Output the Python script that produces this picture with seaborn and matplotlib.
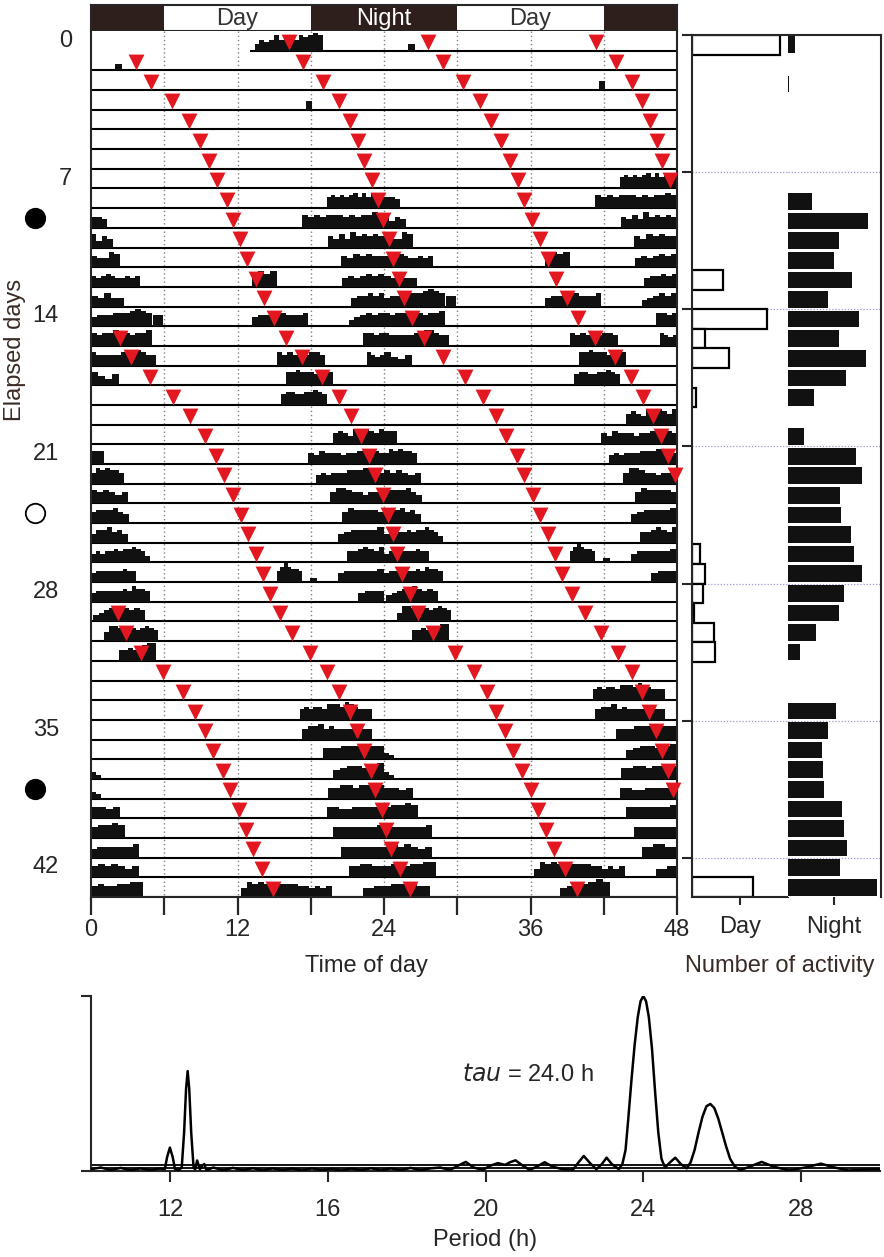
import numpy as np
import pandas as pd
import matplotlib
matplotlib.use('Agg')
import matplotlib.pyplot as plt
import seaborn as sns

sns.set_style('ticks')
plt.rcParams['font.family'] = ['Liberation Sans', 'DejaVu Sans']

# ---------------------------------------------------------------- data
record_start = 13.0          # hour the recording began on day 0

# activity bouts per day: (onset h, offset h, step profile in tenths of row height)
day_bouts = [
    [(13.4, 19.0, '35457566576787')],                                   # 0
    [(2.0, 2.5, '3')],
    [],
    [(17.6, 18.1, '4')],
    [], [], [], [],
    [(19.3, 24.0, '5656567575766')],                                    # 8
    [(0, 1.3, '554'), (17.3, 24, '65656665656676')],
    [(0, 1.8, '6354'), (19.4, 24, '5464756565')],                       # 10
    [(0, 2.4, '54476'), (20.5, 24, '5465655')],
    [(0, 4.0, '5456544545'), (13.2, 15.2, '5767'), (20.6, 24, '4545656')],
    [(0, 2.7, '54644'), (21.3, 24, '455656')],
    [(0, 5.0, '45556667876'), (5.1, 5.9, '55'), (13.2, 17.8, '4556765556'), (21.1, 24, '345656')],
    [(0, 5.0, '65667565667'), (22.3, 24, '6656')],                      # 15
    [(0, 5.3, '6555556677655'), (15.2, 19.2, '656565665'), (22.6, 24, '6545')],
    [(0, 2.3, '6435'), (16.0, 19.8, '6676665766')],
    [(15.6, 19.3, '5665566765')],
    [],
    [(19.8, 24, '5654767657')],                                         # 20
    [(0, 1.1, '66'), (17.8, 24, '54655545566565')],
    [(0, 2.7, '5767665'), (18.4, 24, '4545556667765')],
    [(0, 3.0, '656545'), (19.6, 24, '5776554556')],
    [(0, 3.1, '5666754'), (20.6, 24, '5766665')],
    [(0, 3.0, '4667564'), (20.2, 24, '4566667')],                       # 25
    [(0, 4.8, '4545565667653'), (21.0, 24, '5567657')],
    [(0, 3.7, '4555555655'), (15.2, 17.3, '5797665'), (17.9, 18.5, '2'), (20.2, 24, '4555556')],
    [(0, 4.8, '4555555657665'), (21.9, 24, '4555')],
    [(0.2, 4.4, '3456676565')],
    [(1.1, 5.5, '477667656765')],                                       # 30
    [(2.3, 5.3, '55655788')],
    [],
    [],
    [(17.1, 23.0, '5656657776876555')],
    [(17.3, 23.0, '5667565555555')],                                    # 35
    [(19.0, 24, '5556665666')],
    [(0, 0.8, '32'), (19.8, 24, '4566567')],
    [(0, 0.8, '32'), (19.4, 24, '556656666')],
    [(0, 2.4, '5545'), (19.3, 24, '554455555')],
    [(0, 2.8, '56676'), (19.8, 24, '5555556')],                         # 40
    [(0, 3.9, '45555556'), (20.5, 24, '555555')],
    [(0, 3.9, '5656545'), (21.1, 24, '556655')],
    [(0, 4.3, '56556677'), (12.3, 19.7, '4767656666554545'), (22.3, 24, '4455')],
    [(0, 3.8, '5666655'), (14.4, 18.5, '4556787')],                     # 44
]

# red triangles, per actogram row, in double-plot hours (0-48)
tide_marks = [
    [16.2, 27.6, 41.4], [3.7, 17.4, 28.8, 43.0], [4.9, 19.0, 30.5, 44.3],
    [6.6, 20.3, 31.9, 45.1], [8.0, 21.2, 32.8, 45.8], [8.9, 21.9, 33.6, 46.4],
    [9.7, 22.4, 34.3, 46.8], [10.3, 23.0, 35.0, 47.4], [11.1, 23.5, 35.5],
    [11.6, 23.9, 36.1], [12.2, 24.4, 36.8], [12.8, 24.7, 37.4],
    [13.5, 25.2, 38.1], [14.2, 25.6, 39.0], [15.0, 26.3, 39.9],
    [2.4, 16.0, 27.3, 41.3], [3.3, 17.3, 28.8, 42.9], [4.8, 18.9, 30.6, 44.2],
    [6.7, 20.3, 32.1, 45.2], [8.1, 21.3, 33.2, 46.0], [9.3, 22.1, 34.0, 46.7],
    [10.2, 22.8, 34.9, 47.3], [10.9, 23.3, 35.5, 47.8], [11.6, 23.9, 36.2],
    [12.3, 24.3, 36.8], [12.9, 24.7, 37.4], [13.5, 25.1, 38.0],
    [14.1, 25.5, 38.6], [14.7, 26.1, 39.4], [2.2, 15.5, 26.8, 40.5],
    [2.9, 16.5, 28.0, 41.8], [4.1, 17.9, 29.8, 43.2], [5.9, 19.3, 31.4, 44.3],
    [7.5, 20.3, 32.4, 45.1], [8.5, 21.2, 33.2, 45.7], [9.3, 21.8, 33.9, 46.3],
    [10.0, 22.4, 34.6, 46.8], [10.8, 22.9, 35.3, 47.3], [11.4, 23.3, 36.0, 47.7],
    [12.1, 23.8, 36.6], [12.7, 24.2, 37.3], [13.3, 24.6, 37.9],
    [14.0, 25.3, 38.8], [14.9, 26.1, 39.8],
]

row_labels = [0, 7, 14, 21, 28, 35, 42]
marked_days = [9, 24, 38]
marked_filled = [True, False, True]

light_edges = [0, 6, 18, 30, 42, 48]
light_names = ['', 'Day', 'Night', 'Day', '']
light_dark = [True, False, True, False, True]

# number of activity per day
day_counts = [88, 0, 0, 0, 0, 0, 0, 0, 0, 0,
              0, 0, 31, 0, 75, 13, 37, 0, 4, 0,
              0, 0, 0, 0, 0, 0, 8, 13, 11, 2,
              22, 23, 0, 0, 0, 0, 0, 0, 0, 0,
              0, 0, 0, 61]
night_counts = [7, 0, 0.6, 0, 0, 0, 0, 0, 24, 80,
                51, 46, 64, 40, 71, 51, 78, 58, 26, 0,
                16, 68, 74, 52, 53, 63, 66, 74, 56, 51,
                28, 12, 0, 0, 48, 40, 34, 35, 36, 54,
                56, 59, 52, 89]

# periodogram
period = [10.0, 10.25, 10.5, 10.75, 11.0, 11.25, 11.5, 11.75, 11.87, 11.93,
          12.0, 12.07, 12.13, 12.22, 12.3, 12.36, 12.41, 12.45, 12.49, 12.54,
          12.6, 12.64, 12.69, 12.76, 12.82, 12.87, 12.93, 13.1, 13.35, 13.6,
          13.85, 14.1, 14.35, 14.6, 14.85, 15.1, 15.35, 15.6, 15.85, 16.1,
          16.35, 16.6, 16.85, 17.1, 17.35, 17.6, 17.85, 18.1, 18.35, 18.6,
          18.85, 19.1, 19.3, 19.5, 19.7, 19.93, 20.12, 20.31, 20.5, 20.62,
          20.76, 20.95, 21.12, 21.3, 21.5, 21.7, 21.95, 22.22, 22.36, 22.49,
          22.65, 22.81, 22.95, 23.07, 23.2, 23.38, 23.47, 23.55, 23.62, 23.7,
          23.78, 23.86, 23.93, 24.0, 24.07, 24.14, 24.22, 24.3, 24.38, 24.46,
          24.55, 24.68, 24.81, 24.95, 25.1, 25.2, 25.3, 25.4, 25.5, 25.6,
          25.7, 25.8, 25.9, 26.0, 26.1, 26.2, 26.32, 26.46, 26.7, 27.0,
          27.3, 27.7, 28.1, 28.5, 28.85, 29.2, 29.6, 30.0]
power = [0.01, 0.02, 0.005, 0.018, 0.004, 0.015, 0.005, 0.014, 0.01, 0.08,
         0.134, 0.08, 0.01, 0.004, 0.02, 0.22, 0.47, 0.571, 0.47, 0.22,
         0.02, 0.01, 0.06, 0.01, 0.03, 0.04, 0.005, 0.02, 0.004, 0.018,
         0.004, 0.016, 0.003, 0.015, 0.004, 0.014, 0.003, 0.015, 0.004, 0.012,
         0.003, 0.014, 0.004, 0.016, 0.003, 0.015, 0.004, 0.018, 0.004, 0.015,
         0.02, 0.006, 0.03, 0.052, 0.02, 0.006, 0.03, 0.045, 0.035, 0.05,
         0.061, 0.03, 0.006, 0.025, 0.05, 0.025, 0.01, 0.008, 0.05, 0.086,
         0.045, 0.01, 0.04, 0.076, 0.04, 0.01, 0.04, 0.12, 0.3, 0.52,
         0.72, 0.88, 0.97, 1.0, 0.97, 0.88, 0.7, 0.45, 0.22, 0.07,
         0.02, 0.05, 0.076, 0.04, 0.015, 0.05, 0.12, 0.22, 0.31, 0.37,
         0.383, 0.36, 0.3, 0.22, 0.14, 0.07, 0.025, 0.005, 0.025, 0.052,
         0.025, 0.003, 0.02, 0.042, 0.02, 0.003, 0.008, 0.01]
sig_levels = [0.032, 0.016]
tau_text = '24.0'

# ---------------------------------------------------------------- layout
W, H = 884, 1257
ink = '#3b2b26'
dark = '#2e1f1c'
red = '#e3171f'
FS = 17


def fx(px):
    return px / W


def fy(py):
    return 1 - py / H


def box(x0, y0, x1, y1):
    return [fx(x0), fy(y1), fx(x1) - fx(x0), fy(y0) - fy(y1)]


fig = plt.figure(figsize=(W / 100, H / 100), dpi=100)
ax_bar = fig.add_axes(box(91, 5, 677, 31))
ax = fig.add_axes(box(91, 31, 677, 897))
ax_day = fig.add_axes(box(692, 35, 788, 897))
ax_night = fig.add_axes(box(788, 35, 880.5, 897))
ax_p = fig.add_axes(box(91, 996, 880, 1171))

n_rows = len(tide_marks)

# light/dark bar
for a, b, name, is_dark in zip(light_edges[:-1], light_edges[1:], light_names, light_dark):
    ax_bar.axvspan(a, b, color=dark if is_dark else 'white', lw=0)
    if name:
        ax_bar.text((a + b) / 2, 0.45, name, ha='center', va='center', fontsize=FS,
                    color='white' if is_dark else '#333333')
ax_bar.set_xlim(0, 48)
ax_bar.set_ylim(0, 1)
ax_bar.set_xticks([])
ax_bar.set_yticks([])
for s in ax_bar.spines.values():
    s.set_linewidth(1.5)

# actogram (double plotted)
ax.vlines(np.arange(6, 48, 6), 0, n_rows, colors='#808080', linestyles=(0, (1, 2)), lw=1.0, zorder=0)
for i in range(n_rows):
    base = i + 1
    ax.hlines(base, record_start if i == 0 else 0, 48, color='black', lw=1.5, zorder=2)
    for off, d in ((0, i), (24, i + 1)):
        if d >= len(day_bouts):
            continue
        for start, end, prof in day_bouts[d]:
            lev = np.minimum(np.array([int(c) for c in prof]) / 10 * 1.12, 0.95)
            edges = np.linspace(start, end, len(lev) + 1) + off
            ax.fill_between(edges, base, base - np.append(lev, lev[-1]), step='post',
                            color='#111111', lw=0, zorder=2)

tri = pd.DataFrame([(r, h) for r, hs in enumerate(tide_marks) for h in hs], columns=['row', 'hour'])
tri['ypos'] = tri['row'] + 0.58
sns.scatterplot(data=tri, x='hour', y='ypos', marker='v', color=red, s=130, linewidth=0,
                ax=ax, zorder=5, clip_on=False)

ax.set_xlim(0, 48)
ax.set_ylim(n_rows, 0)
ax.set_xticks(np.arange(0, 49, 6))
ax.set_xticklabels([str(t) if t % 12 == 0 else '' for t in range(0, 49, 6)], fontsize=FS)
ax.set_yticks([])
ax.tick_params(axis='x', length=13, width=1.6, pad=3)
ax.spines['top'].set_visible(False)
for s in ['left', 'right', 'bottom']:
    ax.spines[s].set_linewidth(1.5)
ax.set_xlabel('')
ax.set_ylabel('')

for d in row_labels:
    ax.text(-2.1 if d < 10 else -3.7, d + 0.5, str(d), ha='center', va='center', fontsize=FS)
for d, filled in zip(marked_days, marked_filled):
    ax.plot(-4.6, d + 0.5, 'o', ms=14, mfc='black' if filled else 'white', mec='black',
            mew=1.3, clip_on=False)

fig.text(fx(15), fy(350), 'Elapsed days', rotation=90, ha='center', va='center', fontsize=FS, color=ink)
fig.text(fx(366), fy(966), 'Time of day', ha='center', va='center', fontsize=FS)

# activity counts
hist = pd.DataFrame({'day': np.arange(n_rows), 'Day': day_counts, 'Night': night_counts})
sns.barplot(data=hist[hist['Day'] > 0], x='Day', y='day', orient='h', native_scale=True,
            width=1.0, color='white', edgecolor='black', linewidth=1.6, saturation=1,
            errorbar=None, ax=ax_day)
sns.barplot(data=hist[hist['Night'] > 0], x='Night', y='day', orient='h', native_scale=True,
            width=0.85, color='#111111', linewidth=0, saturation=1, errorbar=None, ax=ax_night)
grid_rows = np.array(row_labels) - 0.5
for a, xmax in ((ax_day, 96), (ax_night, 92.5)):
    a.set_ylim(n_rows - 0.5, -0.5)
    a.set_xlim(0, xmax)
    for g in grid_rows[1:]:
        a.axhline(g, color='#9a9ad8', ls=(0, (1, 1.5)), lw=0.9, zorder=0)
    a.set_xlabel('')
    a.set_ylabel('')
    for s in a.spines.values():
        s.set_linewidth(1.5)
ax_day.set_yticks(grid_rows)
ax_day.set_yticklabels([])
ax_day.tick_params(axis='y', length=7, width=1.5)
ax_day.spines['right'].set_visible(False)
ax_day.set_xticks([48])
ax_day.set_xticklabels(['Day'], fontsize=FS)
ax_day.tick_params(axis='x', length=6, width=1.5, pad=8)
ax_night.set_yticks([])
ax_night.spines['left'].set_visible(False)
ax_night.spines['bottom'].set_visible(False)
ax_night.set_xticks([46])
ax_night.set_xticklabels(['Night'], fontsize=FS)
ax_night.tick_params(axis='x', length=6, width=1.5, pad=8)
fig.text(fx(780), fy(966), 'Number of activity', ha='center', va='center', fontsize=FS, color=ink)

# periodogram
sns.lineplot(x=period, y=power, color='black', linewidth=1.8, ax=ax_p, zorder=3)
for lv in sig_levels:
    ax_p.axhline(lv, color='black', lw=1.3, zorder=2)
ax_p.set_xlim(10, 30)
ax_p.set_ylim(0, 1)
ax_p.set_xticks([12, 16, 20, 24, 28])
ax_p.set_xticklabels(['12', '16', '20', '24', '28'], fontsize=FS)
ax_p.set_yticks([0, 1])
ax_p.set_yticklabels([])
ax_p.tick_params(axis='x', length=8, width=1.5, pad=12)
ax_p.tick_params(axis='y', length=7, width=1.5)
ax_p.spines['top'].set_visible(False)
ax_p.spines['right'].set_visible(False)
for s in ['left', 'bottom']:
    ax_p.spines[s].set_linewidth(1.5)
ax_p.set_xlabel('Period (h)', fontsize=FS, labelpad=6)
ax_p.set_ylabel('')
ax_p.text(19.4, 0.55, r'$\it{tau}$' + ' = ' + tau_text + ' h', fontsize=FS, va='center', ha='left')

fig.savefig('out.png', dpi=100)
